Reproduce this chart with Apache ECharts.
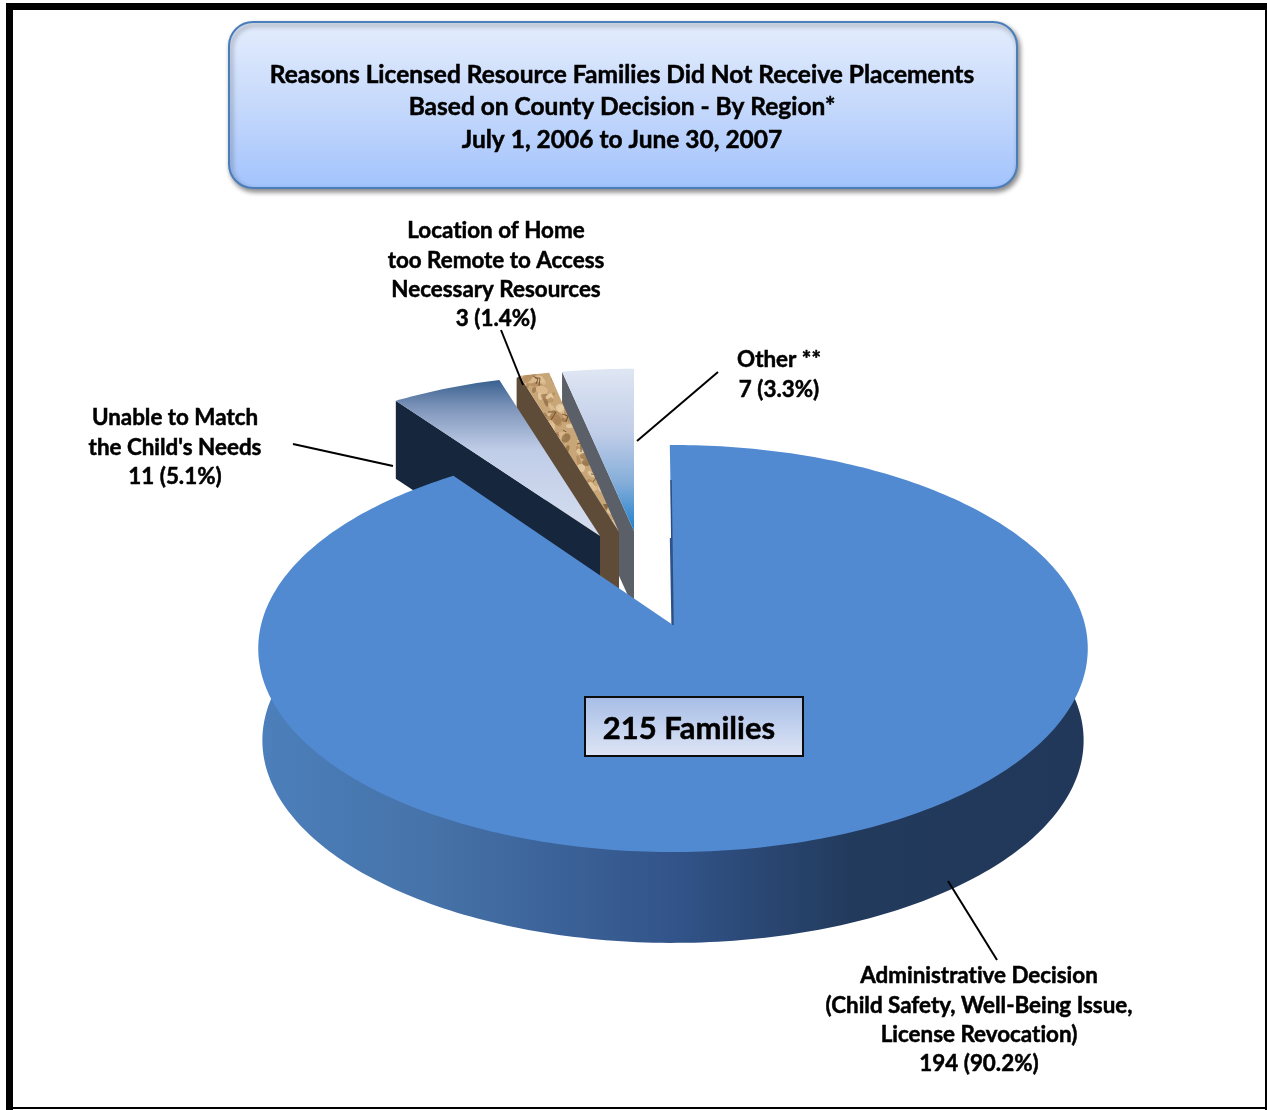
<!DOCTYPE html>
<html>
<head>
<meta charset="utf-8">
<title>Reasons Licensed Resource Families Did Not Receive Placements</title>
<style>
  html, body { margin: 0; padding: 0; background: #fff; }
  #main { width: 1267px; height: 1110px; }
</style>
<script src="https://cdn.jsdelivr.net/npm/echarts@6/dist/echarts.min.js"></script>
</head>
<body>
<div id="main"></div>
<script>
// 数据
var titleLines = [
  'Reasons Licensed Resource Families Did Not Receive Placements',
  'Based on County Decision - By Region*',
  'July 1, 2006 to June 30, 2007'
];
var categories = ['Administrative Decision', 'Unable to Match', 'Location of Home', 'Other **'];
var familyCounts = [194, 11, 3, 7];
var familyShares = ['90.2', '5.1', '1.4', '3.3'];
var totalLabel = '215 Families';

var font = 'Lato, Carlito, Calibri, sans-serif';
var total = familyCounts.reduce(function (a, b) { return a + b; }, 0);

// 关掉 ti 连字，原图没有
['fillText', 'strokeText'].forEach(function (m) {
  var orig = CanvasRenderingContext2D.prototype[m];
  CanvasRenderingContext2D.prototype[m] = function () {
    this.textRendering = 'optimizeSpeed';
    return orig.apply(this, arguments);
  };
});

// 透视投影 k
var persp = 0.1155;
var depth = 92;
// 每一块的位置和样式，z 决定先后
var sliceLayout = [
  { ax: 673, ay: 625, A: 412, B: 200.8, d: depth, z: 4, rot: -0.5, wallDx: 0 },
  { ax: 600, ay: 536, A: 388, B: 181, d: 78, z: 3, rot: 0, wallDx: 0 },
  { ax: 619, ay: 532, A: 383, B: 181, d: 78, z: 2, rot: 0, wallDx: -3 },
  { ax: 634, ay: 531, A: 394, B: 181, d: 78, z: 1, rot: 0, wallDx: 0 }
];

function grad(stops, horizontal) {
  return new echarts.graphic.LinearGradient(0, 0, horizontal ? 1 : 0, horizontal ? 0 : 1,
    stops.map(function (s) { return { offset: s[0], color: s[1] }; }));
}

// 木纹贴图
function woodTexture() {
  var c = document.createElement('canvas');
  c.width = 72; c.height = 72;
  var g = c.getContext('2d');
  g.fillStyle = '#c8a678';
  g.fillRect(0, 0, 72, 72);
  var cols = ['rgba(150,112,68,0.7)', 'rgba(232,208,168,0.8)', 'rgba(120,86,48,0.55)', 'rgba(222,190,146,0.8)', 'rgba(176,136,88,0.7)'];
  for (var i = 0; i < 90; i++) {
    var x = (i * 37) % 72, y = (i * i * 13 + i * 7) % 72;
    g.fillStyle = cols[i % 5];
    g.beginPath();
    g.ellipse(x, y, 3 + (i % 5), 2 + (i % 3), i, 0, Math.PI * 2);
    g.fill();
  }
  // 裂纹
  g.strokeStyle = 'rgba(92,62,30,0.75)';
  g.lineWidth = 1;
  for (var j = 0; j < 12; j++) {
    var px = (j * 29) % 72, py = (j * j * 11 + j * 5) % 72;
    g.beginPath();
    g.moveTo(px, py);
    g.lineTo(px + 4 + (j % 5), py + 4 - (j % 7));
    g.lineTo(px + 2 + (j % 3), py + 8);
    g.stroke();
  }
  return c;
}

var faceFill = [
  '#528ad2',
  grad([[0, '#38608f'], [0.18, '#7e95ba'], [0.45, '#c0cde8'], [1, '#d6deef']]),
  { image: woodTexture(), repeat: 'repeat' },
  grad([[0, '#dfe6f3'], [0.4, '#c0cde8'], [0.7, '#85aed9'], [1, '#1f80cc']])
];
var wallFill = [
  grad([[0, '#4c7fbb'], [0.2, '#4673a9'], [0.5, '#32548a'], [0.72, '#223a5c'], [1, '#21385a']], true),
  '#16263c',
  '#5e4c38',
  '#5a5f68'
];

function project(l, deg, r, dy) {
  var t = deg * Math.PI / 180;
  var w = 1 + persp * Math.cos(t) * r;
  return [l.ax + l.A * Math.sin(t) * r / w, l.ay - l.B * Math.cos(t) * r / w + (dy || 0)];
}

function faceLine(l, from, to, dy) {
  var pts = [];
  var n = Math.max(2, Math.ceil(Math.abs(to - from)));
  for (var i = 0; i <= n; i++) {
    pts.push(project(l, from + (to - from) * i / n, 1, dy));
  }
  return pts;
}

function renderSlice(params, api) {
  var i = api.value(0);
  var l = sliceLayout[i];
  var before = 0;
  for (var k = 0; k < i; k++) before += familyCounts[k];
  var a0 = l.rot + before / total * 360;
  var a1 = l.rot + (before + api.value(1)) / total * 360;
  var apex = project(l, 0, 0);
  var children = [];
  if (i === 0) {
    // 主块外侧的厚度，下面再盖上顶面
    var bottom = { ax: l.ax, ay: l.ay, A: l.A * 0.99, B: l.B * 0.995 };
    children.push({
      type: 'polygon',
      z2: l.z * 10,
      shape: { points: [[apex[0], apex[1] + l.d]].concat(faceLine(bottom, a0, a1, l.d)) },
      style: { fill: wallFill[0] }
    });
    // 缺口处的一条暗边
    children.push({
      type: 'line',
      z2: l.z * 10 + 2,
      shape: { x1: apex[0], y1: apex[1], x2: apex[0] - 2, y2: apex[1] - 145 },
      style: { stroke: '#2d4e80', lineWidth: 1.5 }
    });
  } else {
    // 小块的侧面
    var corner = project(l, a0, 1);
    var outer = [corner[0] + l.wallDx, corner[1] + (l.wallDx ? 2 : 0)];
    children.push({
      type: 'polygon',
      z2: l.z * 10,
      shape: { points: [outer, corner, apex, [apex[0], apex[1] + l.d], [outer[0], outer[1] + l.d]] },
      style: { fill: wallFill[i] }
    });
  }
  children.push({
    type: 'polygon',
    z2: l.z * 10 + 1,
    shape: { points: [apex].concat(faceLine(l, a0, a1)) },
    style: { fill: faceFill[i] }
  });
  return { type: 'group', children: children };
}

function label(lines, cx, ys, size) {
  return lines.map(function (t, i) {
    return {
      type: 'text', x: cx, y: ys[i] + 1, z: 20,
      style: {
        text: t, fill: '#000', stroke: '#000', lineWidth: 0.5,
        font: 'bold ' + size + 'px ' + font, align: 'center', verticalAlign: 'middle'
      }
    };
  });
}

function leader(x1, y1, x2, y2) {
  return {
    type: 'line', z: 15,
    shape: { x1: x1, y1: y1, x2: x2, y2: y2 },
    style: { stroke: '#000', lineWidth: 2 }
  };
}

function countText(i) {
  return familyCounts[i] + ' (' + familyShares[i] + '%)';
}

var graphics = [
  // 外框
  { type: 'rect', z: 1, shape: { x: 6, y: 3, width: 7, height: 1107 }, style: { fill: '#000' } },
  { type: 'rect', z: 1, shape: { x: 6, y: 3, width: 1261, height: 7 }, style: { fill: '#000' } },
  { type: 'rect', z: 1, shape: { x: 1265, y: 3, width: 2, height: 1107 }, style: { fill: '#000' } },
  { type: 'rect', z: 1, shape: { x: 6, y: 1107, width: 1261, height: 2 }, style: { fill: '#000' } },
  // 标题框
  {
    type: 'rect', z: 2,
    shape: { x: 229, y: 22, width: 788, height: 166, r: 24 },
    style: {
      fill: grad([[0, '#e4edfd'], [0.5, '#c6d9fb'], [1, '#a2c3fd']]),
      stroke: '#4a7ebb', lineWidth: 2,
      shadowColor: 'rgba(0,0,0,0.45)', shadowBlur: 5, shadowOffsetX: 2, shadowOffsetY: 3
    }
  },
  // 总数框
  {
    type: 'rect', z: 12,
    shape: { x: 585, y: 697, width: 218, height: 59 },
    style: { fill: grad([[0, '#a6bde6'], [1, '#dfe6f6']]), stroke: '#0c0c0c', lineWidth: 2 }
  },
  leader(501, 330, 523, 385),
  leader(718, 372, 637, 441),
  leader(293, 444, 393, 466),
  leader(948, 881, 997, 960)
].concat(
  label(titleLines, 622, [74, 106, 139], 24.5),
  label([totalLabel], 689, [728], 31),
  label([categories[2], 'too Remote to Access', 'Necessary Resources', countText(2)], 496, [230, 260, 289, 318], 22.4),
  label([categories[3], countText(3)], 779, [359, 389], 22.4),
  label([categories[1], "the Child's Needs", countText(1)], 175, [417, 447, 476], 22.4),
  label([categories[0], '(Child Safety, Well-Being Issue,', 'License Revocation)', countText(0)], 979, [975, 1005, 1034, 1063], 22.4)
);

var chart = echarts.init(document.getElementById('main'), null, { renderer: 'canvas' });
chart.setOption({
  animation: false,
  backgroundColor: '#fff',
  graphic: { elements: graphics },
  series: [{
    type: 'custom',
    coordinateSystem: 'none',
    silent: true,
    z: 5,
    renderItem: renderSlice,
    data: familyCounts.map(function (v, i) { return [i, v]; })
  }]
});
</script>
</body>
</html>
